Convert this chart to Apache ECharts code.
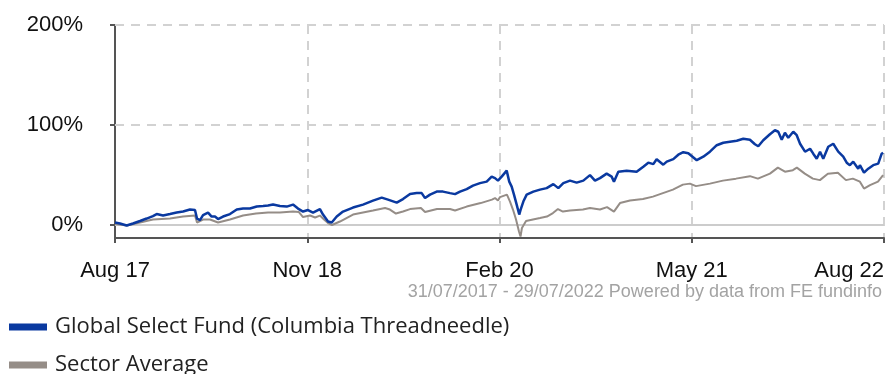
<!DOCTYPE html>
<html>
<head>
<meta charset="utf-8">
<script src="https://cdn.jsdelivr.net/npm/echarts@6/dist/echarts.min.js"></script>
<style>
  html, body { margin: 0; padding: 0; background: #ffffff; }
  #chart { width: 886px; height: 374px; }
</style>
</head>
<body>
<div id="chart"></div>
<script>
// x positions are months since 1 Aug 2017; values are cumulative % returns
const tickLabels = ['Aug 17', 'Nov 18', 'Feb 20', 'May 21', 'Aug 22'];
const yTicks = [0, 100, 200];
const seriesNames = ['Global Select Fund (Columbia Threadneedle)', 'Sector Average'];
const periodNote = '31/07/2017 - 29/07/2022 Powered by data from FE fundinfo';

const fundMonths = [
  0, 0.39, 0.91, 1.40, 1.95, 2.47, 2.96, 3.25, 3.75, 4.29, 4.81, 5.31, 5.85, 6.24, 6.40, 6.63, 6.87,
  7.26, 7.54, 7.80, 8.04, 8.43, 8.97, 9.50, 9.99, 10.53, 11.06, 11.55, 11.94, 12.33, 12.87, 13.40,
  13.89, 14.28, 14.67, 15.06, 15.45, 15.99, 16.23, 16.62, 16.91, 17.30, 17.79, 18.57, 19.35, 20.13,
  20.81, 21.30, 21.98, 22.47, 23.02, 23.54, 23.93, 24.19, 24.58, 25.10, 25.59, 26.14, 26.53, 26.92,
  27.44, 27.93, 28.48, 29.00, 29.39, 29.65, 29.88, 30.17, 30.56, 30.76, 30.95, 31.13, 31.34, 31.54,
  31.65, 31.86, 32.12, 32.64, 33.16, 33.68, 34.20, 34.59, 34.98, 35.50, 36.02, 36.54, 37.06, 37.45,
  37.84, 38.36, 38.75, 38.93, 39.27, 39.92, 40.70, 41.22, 41.61, 42.00, 42.26, 42.78, 43.05, 43.56,
  43.95, 44.34, 44.73, 45.39, 45.90, 46.42, 46.95, 47.46, 47.98, 48.51, 49.02, 49.54, 49.93, 50.19,
  50.58, 51.10, 51.49, 51.75, 52.02, 52.27, 52.53, 52.92, 53.19, 53.45, 53.84, 54.23, 54.48, 54.75,
  55.01, 55.26, 55.65, 56.04, 56.43, 56.82, 57.09, 57.34, 57.60, 57.99, 58.12, 58.44, 58.77, 59.16,
  59.55, 59.82, 59.93
];
const fundReturns = [
  2, 1, -1, 1, 3.5, 6, 8.5, 10.5, 9, 10.5, 12, 13, 15, 14.5, 6, 4.5, 9.5,
  12, 8, 8, 5.5, 8, 10.5, 15, 16, 16, 18, 18.5, 19, 20, 18.5, 18,
  20, 16, 13, 14.5, 12, 15.5, 10, 3, 2, 8, 13, 17, 20, 24,
  27, 25, 22, 25.5, 30.5, 31.5, 31.5, 26.5, 30, 33, 33, 31.5, 30.5, 33,
  35.5, 39, 41.5, 43, 48, 46.5, 44, 48, 54, 43, 38, 30, 20, 10,
  15, 23, 30, 33, 35, 36.5, 40.5, 36.5, 41.5, 44, 42, 44, 49.5, 44,
  46.5, 51, 48, 43, 53, 54, 53, 58, 62, 60.5, 65.5, 60, 63, 65.5,
  70, 72.5, 71.5, 64.5, 68, 73, 79.5, 82, 83, 84, 86, 85, 80.5, 78.5,
  84.5, 90.5, 94.5, 93, 85, 92, 87, 93, 89.5, 81, 73, 76, 71, 66,
  73, 66, 78, 81, 73, 68, 62, 59.5, 63, 56, 59.5, 52, 56, 59.5,
  61, 71, 72
];

const sectorMonths = [
  0, 0.94, 1.95, 2.96, 4.29, 5.31, 6.24, 6.40, 6.87, 7.41, 8.04, 8.97, 9.99, 11.00, 11.94, 12.87,
  13.89, 14.35, 14.67, 15.22, 15.61, 15.99, 16.31, 16.62, 16.93, 17.55, 18.57, 20.13, 21.07, 21.45,
  21.92, 22.47, 23.02, 23.87, 24.19, 25.12, 26.14, 26.53, 27.44, 28.53, 29.41, 29.65, 29.88, 30.04,
  30.58, 30.82, 31.05, 31.29, 31.52, 31.64, 31.75, 32.07, 32.61, 33.16, 33.70, 34.17, 34.56, 34.95,
  35.50, 36.51, 37.06, 37.84, 38.39, 38.93, 39.40, 40.18, 41.19, 41.97, 42.75, 43.53, 44.31, 44.86,
  45.33, 46.42, 47.43, 48.45, 49.54, 50.16, 51.10, 51.72, 52.27, 52.89, 53.20, 53.82, 54.45, 55.00,
  55.62, 56.40, 57.03, 57.57, 58.12, 58.44, 58.91, 59.53, 59.93
];
const sectorReturns = [
  0.5, -1, 2, 5, 6, 8, 9, 2, 5, 5, 2, 5, 9, 11, 12, 12,
  13, 12.5, 7.5, 9, 7, 9, 5, 1.5, -0.5, 3, 10, 14, 16.5, 15,
  11, 13, 15.5, 16.5, 12.5, 15.5, 15.5, 14, 18, 21.5, 25, 26.5, 24, 27.5,
  30, 23, 15, 5, -7, -12, -3.5, 3.5, 5, 6.5, 8, 11.5, 15.5, 13,
  14, 15, 16.5, 15, 17.5, 13, 21.5, 24, 25.5, 28, 31.5, 35, 40, 41,
  38.5, 41, 44, 46, 48.5, 46, 51, 57, 53, 54.5, 57, 51, 46, 44.5,
  51, 52, 44.5, 46, 43, 36, 39.5, 43, 49.5
];

const pairs = (xs, ys) => xs.map((x, i) => [x, ys[i]]);

const chart = echarts.init(document.getElementById('chart'), null, { renderer: 'canvas' });

const axisFont = { fontFamily: 'Liberation Sans, Arial, sans-serif', fontSize: 22, color: '#111111' };

chart.setOption({
  animation: false,
  backgroundColor: '#ffffff',
  grid: { left: 115, right: 2, top: 25, bottom: 136, containLabel: false, outerBoundsMode: 'none' },
  legend: {
    orient: 'vertical',
    left: 9,
    top: 316,
    height: 120,
    padding: 0,
    itemWidth: 38,
    itemHeight: 7,
    itemGap: 16,
    icon: 'rect',
    data: seriesNames,
    textStyle: { fontFamily: 'Open Sans, Noto Sans, sans-serif', fontSize: 22, color: '#222222', padding: [0, 0, 0, 3] }
  },
  xAxis: {
    type: 'value',
    min: 0,
    max: 60,
    interval: 15,
    axisLine: { show: true, onZero: false, lineStyle: { color: '#555555', width: 2 } },
    axisTick: { show: true, inside: false, length: 5, lineStyle: { color: '#555555', width: 2 } },
    axisLabel: Object.assign({
      margin: 22, hideOverlap: false, alignMaxLabel: 'right',
      formatter: v => tickLabels[Math.round(v / 15)] || ''
    }, axisFont),
    splitLine: { show: true, lineStyle: { color: '#d2d2d2', width: 2, type: [9, 7] } }
  },
  yAxis: {
    type: 'value',
    min: -13.5,
    max: 200,
    axisLine: { show: true, lineStyle: { color: '#555555', width: 2 } },
    axisTick: { show: true, length: 5, customValues: yTicks, lineStyle: { color: '#555555', width: 2 } },
    axisLabel: Object.assign({ margin: 32, padding: [5, 0, 0, 0], customValues: yTicks, formatter: v => v + '%' }, axisFont),
    splitLine: { show: false }
  },
  graphic: [{
    type: 'text',
    right: 4,
    top: 283,
    style: { text: periodNote, fontFamily: 'Liberation Sans, Arial, sans-serif', fontSize: 18, fill: '#a3a3a3' }
  }],
  series: [
    {
      name: seriesNames[1],
      type: 'line',
      data: pairs(sectorMonths, sectorReturns),
      showSymbol: false,
      lineStyle: { color: '#958d87', width: 2 },
      itemStyle: { color: '#958d87' },
      z: 3,
      markLine: {
        silent: true,
        symbol: 'none',
        label: { show: false },
        data: [
          { yAxis: 0, lineStyle: { color: '#cccccc', width: 2, type: 'solid' } },
          { yAxis: 100, lineStyle: { color: '#d2d2d2', width: 2, type: [9, 7] } },
          { yAxis: 200, lineStyle: { color: '#d2d2d2', width: 2, type: [9, 7] } }
        ],
        z: 1
      }
    },
    {
      name: seriesNames[0],
      type: 'line',
      data: pairs(fundMonths, fundReturns),
      showSymbol: false,
      lineStyle: { color: '#0a39a0', width: 2.5 },
      itemStyle: { color: '#0a39a0' },
      z: 4
    }
  ]
});
</script>
</body>
</html>
